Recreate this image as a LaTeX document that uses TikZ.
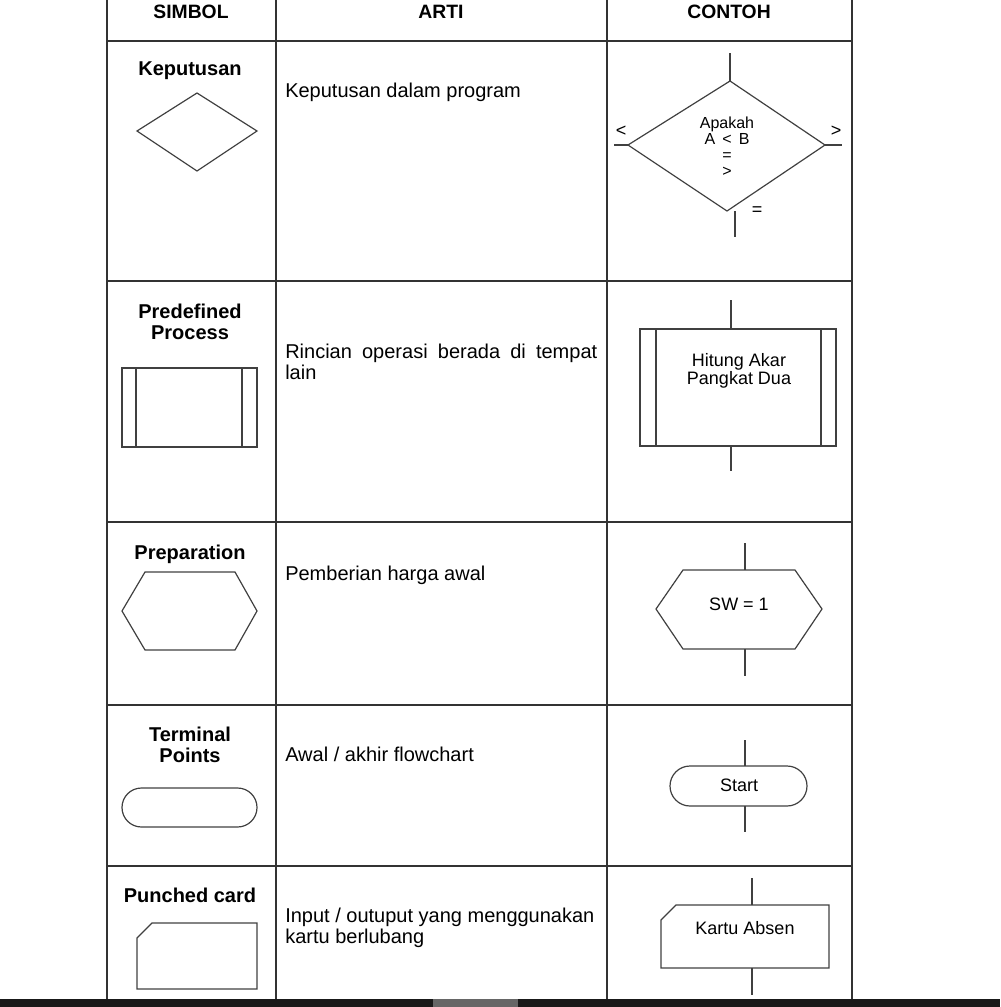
\documentclass[tikz,border=0pt]{standalone}
\usepackage{fontspec}
\setmainfont{Liberation Sans}
\begin{document}
\begin{tikzpicture}[x=0.75pt,y=-0.75pt,
  grid/.style={line width=1.2pt,black!80},
  shp/.style={line width=0.9pt,black!75},
  lbl/.style={font=\bfseries\fontsize{15}{16}\selectfont,align=center,inner sep=0pt},
  txt/.style={font=\fontsize{15}{15.5}\selectfont,anchor=north west,inner sep=0pt,align=left},
  ex/.style={font=\fontsize{13.5}{13.5}\selectfont,align=center,inner sep=0pt}]
\useasboundingbox (0,0) rectangle (1000,1007);
% table
\foreach \x in {107,276,607,852} \draw[grid] (\x,-2) -- (\x,999);
\foreach \y in {41,281,522,705,866} \draw[grid] (107,\y) -- (852,\y);
\fill[black!90] (0,999) rectangle (1000,1007);
\fill[black!60] (433,999) rectangle (518,1007);
% header
\node[lbl,font=\bfseries\fontsize{14.5}{14}\selectfont] (h1) at (191,12) {SIMBOL};
\node[lbl,font=\bfseries\fontsize{14.5}{14}\selectfont] (h2) at (441,12) {ARTI};
\node[lbl,font=\bfseries\fontsize{14.5}{14}\selectfont] (h3) at (729,12) {CONTOH};
% row 1
\node[lbl] (l1) at (190,71) {Keputusan};
\draw[shp] (137,131) -- (197,93) -- (257,131) -- (197,171) -- cycle;
\node[txt] (t1) at (285,83) {Keputusan dalam program};
\coordinate (d1t) at (730,53); \coordinate (d1top) at (730,81);
\coordinate (d1l) at (628,145); \coordinate (d1r) at (825,145); \coordinate (d1b) at (727,211);
\draw[shp] (d1top) -- (d1r) -- (d1b) -- (d1l) -- cycle;
\coordinate (d1le) at (614,145); \coordinate (d1re) at (842,145);
\coordinate (d1b1) at (735,211); \coordinate (d1b2) at (735,237);
\draw[shp] (d1t) -- (d1top); \draw[shp] (d1l) -- (d1le); \draw[shp] (d1r) -- (d1re); \draw[shp] (d1b1) -- (d1b2);
\node[ex,font=\fontsize{12}{12}\selectfont] (dec) at (727,147) {Apakah\\A \,<\, B\\=\\>};
\node[ex] (lt) at (621,131) {<};
\node[ex] (gt) at (836,131) {>};
\node[ex] (eq) at (757,211) {=};
% row 2
\node[lbl] (l2) at (190,322) {Predefined\\Process};
\draw[shp] (122,368) rectangle (257,447); \draw[shp] (136,368) -- (136,447); \draw[shp] (242,368) -- (242,447);
\node[txt,text width=234pt,align=justify] (t2) at (285,344) {Rincian operasi berada di tempat\linebreak lain};
\draw[shp] (640,329) rectangle (836,446); \draw[shp] (656,329) -- (656,446); \draw[shp] (821,329) -- (821,446);
\coordinate (p1) at (731,300); \coordinate (p2) at (731,329); \coordinate (p3) at (731,446); \coordinate (p4) at (731,471);
\draw[shp] (p1) -- (p2); \draw[shp] (p3) -- (p4);
\node[ex] (pe) at (739,371) {Hitung Akar\\Pangkat Dua};
% row 3
\node[lbl] (l3) at (190,554) {Preparation};
\draw[shp] (122,611) -- (145,572) -- (235,572) -- (257,611) -- (235,650) -- (145,650) -- cycle;
\node[txt] (t3) at (285,566) {Pemberian harga awal};
\draw[shp] (656,609) -- (683,570) -- (795,570) -- (822,609) -- (795,649) -- (683,649) -- cycle;
\coordinate (q1) at (745,543); \coordinate (q2) at (745,570); \coordinate (q3) at (745,649); \coordinate (q4) at (745,676);
\draw[shp] (q1) -- (q2); \draw[shp] (q3) -- (q4);
\node[ex] (qe) at (739,604) {SW = 1};
% row 4
\node[lbl] (l4) at (190,745) {Terminal\\Points};
\draw[shp,rounded corners=14.6pt] (122,788) rectangle (257,827);
\node[txt] (t4) at (285,747) {Awal / akhir flowchart};
\draw[shp,rounded corners=15pt] (670,766) rectangle (807,806);
\coordinate (r1) at (745,740); \coordinate (r2) at (745,766); \coordinate (r3) at (745,806); \coordinate (r4) at (745,832);
\draw[shp] (r1) -- (r2); \draw[shp] (r3) -- (r4);
\node[ex] (re) at (739,785) {Start};
% row 5
\node[lbl] (l5) at (190,895) {Punched card};
\draw[shp] (152,923) -- (257,923) -- (257,989) -- (137,989) -- (137,938) -- cycle;
\node[txt] (t5) at (285,908) {Input / outuput yang menggunakan\\kartu berlubang};
\draw[shp] (676,905) -- (829,905) -- (829,968) -- (661,968) -- (661,920) -- cycle;
\coordinate (s1) at (752,878); \coordinate (s2) at (752,905); \coordinate (s3) at (752,968); \coordinate (s4) at (752,995);
\draw[shp] (s1) -- (s2); \draw[shp] (s3) -- (s4);
\node[ex] (se) at (745,928) {Kartu Absen};
\end{tikzpicture}
\end{document}
